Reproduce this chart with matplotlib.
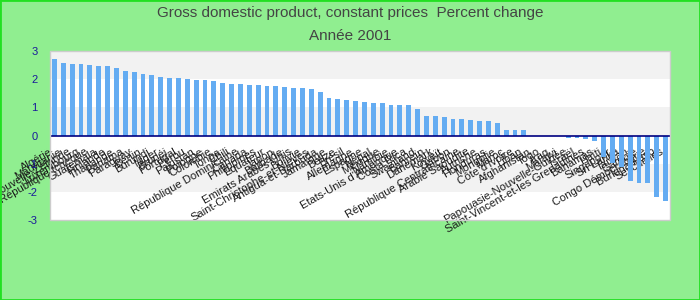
import matplotlib
matplotlib.use("Agg")
import matplotlib.pyplot as plt
from matplotlib.patches import Rectangle
import numpy as np

countries = [
    "Algérie", "Mauritanie", "Nouvelle-Zélande", "Luxembourg", "République tchèque",
    "Guatemala", "Finlande", "Thaïlande", "Panama", "Paraguay",
    "Bénin", "Burundi", "Niger", "Brunéi", "Portugal",
    "Pérou", "Pakistan", "Pologne", "Colombie", "Tonga",
    "Chili", "République Dominicaine", "Canada", "Philippines", "Equateur",
    "Japon", "Barbade", "Emirats Arabes Unis", "Bolivie", "Saint-Christophe-et-Niévès",
    "Antigua-et-Barbuda", "Jamaïque", "Belize", "Brésil", "Allemagne",
    "Espagne", "Népal", "Mexique", "Namibie", "Etats-Unis d'Amérique",
    "Costa Rica", "Swaziland", "Bahreïn", "Danemark", "Koweït",
    "Gabon", "République Centrafricaine", "Arabie Saoudite", "Autriche", "Honduras",
    "Mongolie", "Maroc", "Côte d'Ivoire", "Liban", "Afghanistan",
    "Togo", "Iraq", "Malawi", "Papouasie-Nouvelle-Guinée", "Israël",
    "Saint-Vincent-et-les Grenadines", "Bahamas", "Haïti", "Singapour", "Sri Lanka",
    "Taïwan", "Gambie", "Congo Démocratique", "Burkina Faso", "Seychelles",
]

values = [
    2.71, 2.57, 2.54, 2.54, 2.50, 2.46, 2.46, 2.39, 2.29, 2.25,
    2.18, 2.14, 2.07, 2.04, 2.04, 2.00, 1.96, 1.96, 1.93, 1.86,
    1.82, 1.82, 1.79, 1.79, 1.75, 1.75, 1.71, 1.68, 1.68, 1.64,
    1.54, 1.32, 1.29, 1.25, 1.21, 1.18, 1.14, 1.14, 1.07, 1.07,
    1.07, 0.93, 0.71, 0.68, 0.64, 0.57, 0.57, 0.54, 0.50, 0.50,
    0.46, 0.21, 0.21, 0.18, 0.0, 0.0, 0.0, 0.0, -0.10, -0.10,
    -0.13, -0.20, -0.77, -0.99, -1.13, -1.60, -1.67, -1.70, -2.17, -2.31,
]

y_ticks = [-3, -2, -1, 0, 1, 2, 3]
title_line1 = "Gross domestic product, constant prices  Percent change"
title_line2 = "Année 2001"

bg = "#90EE90"
fig = plt.figure(figsize=(7, 3), dpi=100, facecolor=bg)
fig.patches.append(Rectangle((0, 0), 1, 1, transform=fig.transFigure,
                             fill=False, edgecolor="#22e022", linewidth=2.0))

ax = fig.add_axes([50 / 700, 80 / 300, 620 / 700, 169 / 300])
ax.set_facecolor("white")

# alternating bands
for i, (lo, hi) in enumerate(zip(y_ticks[:-1], y_ticks[1:])):
    if i % 2 == 1:
        ax.axhspan(lo, hi, color="#f2f2f2", zorder=0, linewidth=0)

x = np.arange(len(countries))
ax.bar(x, values, width=0.55, color="#64acf2", zorder=2)
ax.axhline(0, color="#000080", linewidth=1.2, zorder=3)

ax.set_xlim(-0.5, len(countries) - 0.5)
ax.set_ylim(y_ticks[0], y_ticks[-1])
ax.set_yticks(y_ticks)
ax.set_yticklabels([str(t) for t in y_ticks], color="#1a1a9a",
                   fontsize=8, family=["Liberation Sans", "DejaVu Sans"])

ax.spines["bottom"].set_position(("data", 0))
for s in ax.spines.values():
    s.set_visible(False)
ax.add_patch(Rectangle((0, 0), 1, 1, transform=ax.transAxes, fill=False,
                       edgecolor="#cccccc", linewidth=1.0, clip_on=False, zorder=5))

ax.set_xticks(x)
ax.set_xticklabels(countries, rotation=30, ha="right", fontsize=8.0,
                   color="#1a1a1a", family=["Liberation Sans", "DejaVu Sans"])
ax.tick_params(axis="x", length=0, pad=8)
ax.tick_params(axis="y", length=0, pad=9)

fig.text(0.5, 1 - 13 / 300, title_line1, ha="center", va="center",
         fontsize=11, color="#444444", family=["Liberation Sans", "DejaVu Sans"])
fig.text(0.5, 1 - 36 / 300, title_line2, ha="center", va="center",
         fontsize=11, color="#444444", family=["Liberation Sans", "DejaVu Sans"])

fig.savefig("out.png", dpi=100, facecolor=bg)
